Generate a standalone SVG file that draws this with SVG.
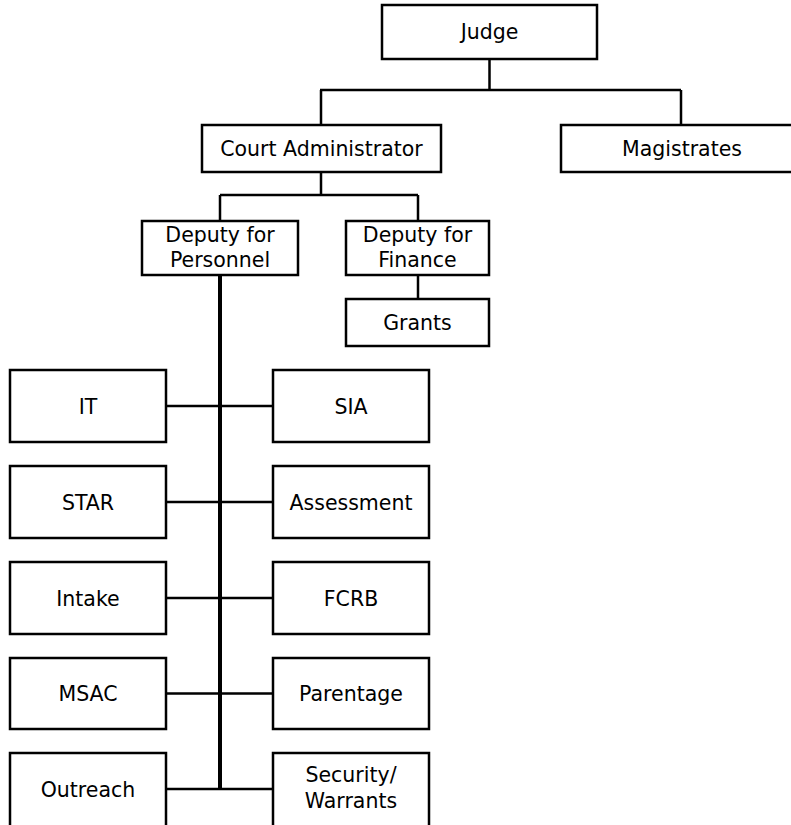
<svg xmlns="http://www.w3.org/2000/svg" width="791" height="825" viewBox="0 0 791 825">
  <style>
    .box { fill: #fff; stroke: #000; stroke-width: 2.5; }
    .lbl { font-family: "DejaVu Sans", Verdana, sans-serif; font-size: 20.5px; fill: #000; text-anchor: middle; }
    .wire { stroke: #000; stroke-width: 2.5; fill: none; }
    .spine { stroke: #000; stroke-width: 4; fill: none; }
  </style>
  <rect width="791" height="825" fill="#fff"/>

  <!-- connectors -->
  <g id="connectors">
    <!-- Judge to second tier -->
    <path class="wire" d="M489.5 59 V90 M320 90 H681 M321 90 V125 M681 90 V125"/>
    <!-- Court Administrator to deputies -->
    <path class="wire" d="M321 172 V195 M220 195 H418 M220 195 V221 M418 195 V221"/>
    <!-- Finance to Grants -->
    <path class="wire" d="M418 275 V299"/>
    <!-- Personnel spine -->
    <path class="spine" d="M220 275 V790"/>
    <!-- branches to units -->
    <path class="wire" d="M166 406 H273 M166 502 H273 M166 598 H273 M166 693.5 H273 M166 789 H273"/>
  </g>

  <g id="judge">
    <rect class="box" x="382" y="5" width="215" height="54"/>
    <text class="lbl" x="489.5" y="39">Judge</text>
  </g>
  <g id="court-administrator">
    <rect class="box" x="202" y="125" width="239" height="47"/>
    <text class="lbl" x="321.5" y="155.5">Court Administrator</text>
  </g>
  <g id="magistrates">
    <rect class="box" x="561" y="125" width="240" height="47"/>
    <text class="lbl" x="682" y="155.5">Magistrates</text>
  </g>
  <g id="deputy-personnel">
    <rect class="box" x="142" y="221" width="156" height="54"/>
    <text class="lbl" x="220" y="242">Deputy for</text>
    <text class="lbl" x="220" y="267">Personnel</text>
  </g>
  <g id="deputy-finance">
    <rect class="box" x="346" y="221" width="143" height="54"/>
    <text class="lbl" x="417.5" y="242">Deputy for</text>
    <text class="lbl" x="417.5" y="267">Finance</text>
  </g>
  <g id="grants">
    <rect class="box" x="346" y="299" width="143" height="47"/>
    <text class="lbl" x="417.5" y="329.5">Grants</text>
  </g>

  <g id="it">
    <rect class="box" x="10" y="370" width="156" height="72"/>
    <text class="lbl" x="88" y="414">IT</text>
  </g>
  <g id="sia">
    <rect class="box" x="273" y="370" width="156" height="72"/>
    <text class="lbl" x="351" y="414">SIA</text>
  </g>
  <g id="star">
    <rect class="box" x="10" y="466" width="156" height="72"/>
    <text class="lbl" x="88" y="510">STAR</text>
  </g>
  <g id="assessment">
    <rect class="box" x="273" y="466" width="156" height="72"/>
    <text class="lbl" x="351" y="510">Assessment</text>
  </g>
  <g id="intake">
    <rect class="box" x="10" y="562" width="156" height="72"/>
    <text class="lbl" x="88" y="606">Intake</text>
  </g>
  <g id="fcrb">
    <rect class="box" x="273" y="562" width="156" height="72"/>
    <text class="lbl" x="351" y="606">FCRB</text>
  </g>
  <g id="msac">
    <rect class="box" x="10" y="658" width="156" height="71"/>
    <text class="lbl" x="88" y="701">MSAC</text>
  </g>
  <g id="parentage">
    <rect class="box" x="273" y="658" width="156" height="71"/>
    <text class="lbl" x="351" y="701">Parentage</text>
  </g>
  <g id="outreach">
    <rect class="box" x="10" y="753" width="156" height="74"/>
    <text class="lbl" x="88" y="797">Outreach</text>
  </g>
  <g id="security-warrants">
    <rect class="box" x="273" y="753" width="156" height="74"/>
    <text class="lbl" x="351" y="782">Security/</text>
    <text class="lbl" x="351" y="808">Warrants</text>
  </g>
</svg>
